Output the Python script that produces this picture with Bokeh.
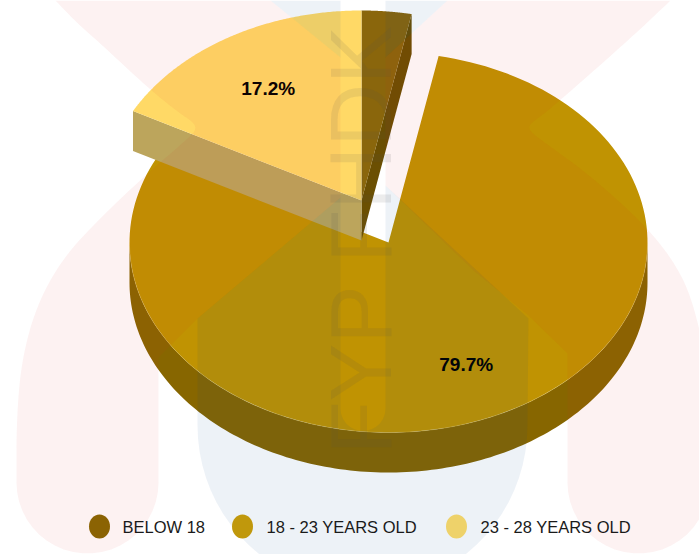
import numpy as np
from bokeh.plotting import figure
from bokeh.models import Range1d
from bokeh.core.properties import value
from bokeh.embed import file_html
from bokeh.resources import INLINE

# ---- data
categories = ["BELOW 18", "18 - 23 YEARS OLD", "23 - 28 YEARS OLD"]
shares = [3.1, 79.7, 17.2]
show_label = [False, True, True]
exploded = [True, False, True]

# ---- colours
top_colors = ["#8a660c", "#c09302", "#ffd966"]
side_colors = ["#6b4f02", "#876600", "#bca55c"]
legend_colors = ["#8b6303", "#c0980c", "#eed26a"]

# ---- layout, in page pixels
W, H = 699, 554
CX, CY, RX, RY, DEPTH = 388, 242, 259, 190, 40
EXPLODE = (-27, -42)
FONT = "Liberation Sans"
legend_dot_x = [99, 242, 456]
legend_text_x = [122, 266, 480]
LEGEND_Y = 526

p = figure(width=W, height=H, x_range=Range1d(0, W), y_range=Range1d(H, 0),
           toolbar_location=None, output_backend="svg", min_border=0,
           x_axis_location=None, y_axis_location=None, outline_line_color=None,
           background_fill_color="white", border_fill_color="white")
p.grid.visible = False


def arc(cx, cy, a0, a1, n=160):
    t = np.radians(np.linspace(a0, a1, n))
    return cx + RX * np.sin(t), cy - RY * np.cos(t)


edges = np.concatenate([[0], np.cumsum(shares)]) / sum(shares) * 360
centres = [(CX + EXPLODE[0] * e, CY + EXPLODE[1] * e) for e in exploded]


def draw_side(i):
    cx, cy = centres[i]
    a0, a1 = edges[i], edges[i + 1]
    if categories[i] == categories[1]:  # big slice: visible rim is the lower half
        x, y = arc(cx, cy, 90, 270)
        p.patch(np.r_[x, x[::-1]], np.r_[y, y[::-1] + DEPTH], fill_color=side_colors[i], line_color=None)
    else:  # exploded slices: the visible side is one straight cut face
        ang = a1 if i == 0 else a0
        x, y = arc(cx, cy, ang, ang, 1)
        fx = [cx, x[0], x[0], cx]
        fy = [cy, y[0], y[0] + DEPTH, cy + DEPTH]
        p.patch(fx, fy, fill_color=side_colors[i], line_color=None)


def draw_top(i):
    cx, cy = centres[i]
    x, y = arc(cx, cy, edges[i], edges[i + 1])
    p.patch(np.r_[cx, x], np.r_[cy, y], fill_color=top_colors[i], line_color=None)


for i in (1, 0, 2):
    draw_side(i)
    draw_top(i)

# light rim between top and side of the big slice
rx, ry = arc(CX, CY, 90, 270)
p.line(rx, ry, line_color="#e0c868", line_alpha=0.3, line_width=1)

for i, s in enumerate(shares):
    if show_label[i]:
        mid = np.radians((edges[i] + edges[i + 1]) / 2)
        cx, cy = centres[i]
        p.text([cx + 0.7 * RX * np.sin(mid)], [cy - 0.7 * RY * np.cos(mid) + 2], text=[f"{s}%"],
               text_font=value(FONT), text_font_style="bold", text_font_size="19px",
               text_color="#000000", text_align="center", text_baseline="middle")


# ---- translucent logo lying over the whole picture
def pill_end(cx, cy, r, a0, a1, n=24):
    t = np.radians(np.linspace(a0, a1, n))
    return list(cx + r * np.cos(t)), list(cy + r * np.sin(t))


def chaikin(xs, ys, rounds=3):
    pts = np.column_stack([xs, ys], ).astype(float)
    for _ in range(rounds):
        a, b = pts[:-1], pts[1:]
        mid = np.empty((2 * len(a), 2))
        mid[0::2] = 0.75 * a + 0.25 * b
        mid[1::2] = 0.25 * a + 0.75 * b
        pts = np.vstack([pts[:1], mid, pts[-1:]])
    return list(pts[:, 0]), list(pts[:, 1])


lx, ly = pill_end(87, 482, 71, 180, 0)
cx1, cy1 = chaikin([55, 78, 100, 147, 178, 192, 196, 190, 150, 100, 62, 36, 21, 16, 16],
                   [0, 24, 43, 87, 112, 121, 128, 136, 170, 217, 258, 305, 360, 420, 482])
pink_left_x = cx1 + lx + [158, 158, 197, 340, 340, 270]
pink_left_y = cy1 + ly + [400, 357, 318, 197, 57, 0]

rlx, rly = pill_end(638, 482, 71, 180, 0)
cx2, cy2 = chaikin([670, 632, 563, 540, 530, 528, 537, 590, 647, 676, 692, 706, 709],
                   [0, 36, 97, 116, 123, 129, 137, 175, 227, 265, 300, 360, 482])
pink_right_x = [447] + cx2 + rlx[::-1] + [567, 567, 528, 473, 385, 385]
pink_right_y = [0] + cy2 + rly[::-1] + [400, 353, 315, 270, 185, 57]

for xs, ys in ((pink_left_x, pink_left_y), (pink_right_x, pink_right_y)):
    p.patch(xs, ys, fill_color="#dc281e", fill_alpha=0.06, line_color=None)

gx, gy = pill_end(362.5, 408, 22.5, 180, 0, 14)
ubx, uby = pill_end(362, 425, 165, 0, 180, 40)
blue_x = [197, 340] + gx + [385, 528] + ubx
blue_y = [318, 197] + gy + [185, 318] + uby
for xs, ys in (([270, 340, 340], [0, 0, 57]), ([385, 447, 385], [0, 0, 57]), (blue_x, blue_y)):
    p.patch(xs, ys, fill_color="#00468c", fill_alpha=0.07, line_color=None)

p.text([360], [239], text=["FYP FHDK"], angle=np.pi / 2, text_font=value("Liberation Sans"),
       text_font_size="87px", text_color="#555555", text_alpha=0.11,
       text_align="center", text_baseline="middle")

# ---- legend
for name, c, dx, tx in zip(categories, legend_colors, legend_dot_x, legend_text_x):
    p.ellipse([dx], [LEGEND_Y], width=21, height=24, fill_color=c, line_color=None)
    p.text([tx], [LEGEND_Y + 0.5], text=[name], text_font=value(FONT), text_font_size="16.5px",
           text_color="#1a1a1a", text_align="left", text_baseline="middle")

open("out.html", "w").write(file_html(p, INLINE))
